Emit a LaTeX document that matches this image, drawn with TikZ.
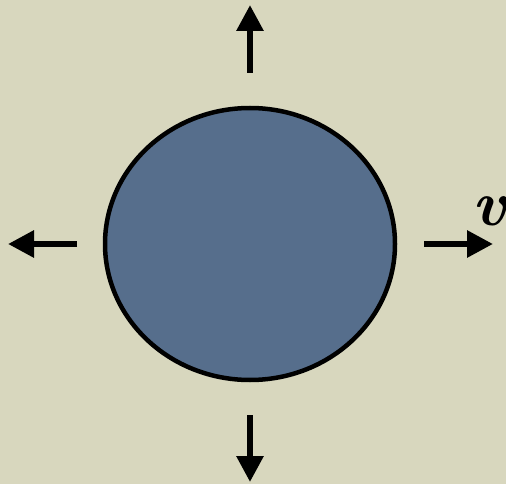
\documentclass[tikz,border=0pt]{standalone}
\usetikzlibrary{arrows.meta,shapes.geometric}
\definecolor{paper}{RGB}{216,215,190}
\definecolor{ball}{RGB}{86,110,140}
\begin{document}
\begin{tikzpicture}[x=1pt,y=-1pt,
  arr/.style={line width=6pt,-{Triangle[length=26pt,width=26pt]}},
  ballstyle/.style={ellipse,draw=black,line width=4.5pt,fill=ball,minimum width=290pt,minimum height=272pt,inner sep=0pt}]
\fill[paper] (0,0) rectangle (506,484);
\useasboundingbox (0,0) rectangle (506,484);
\node[ballstyle] (b) at (250,244) {};
\coordinate (t0) at (250,73); \coordinate (t1) at (250,5);
\coordinate (d0) at (250,415); \coordinate (d1) at (250,482);
\coordinate (l0) at (77,244); \coordinate (l1) at (8,244);
\coordinate (r0) at (424,244); \coordinate (r1) at (493,244);
\draw[arr] (t0) -- (t1);
\draw[arr] (d0) -- (d1);
\draw[arr] (l0) -- (l1);
\draw[arr] (r0) -- (r1);
\node[anchor=base west,inner sep=0pt,font=\fontsize{64}{64}\selectfont\bfseries\itshape] (v) at (472,225) {v};
\end{tikzpicture}
\end{document}
